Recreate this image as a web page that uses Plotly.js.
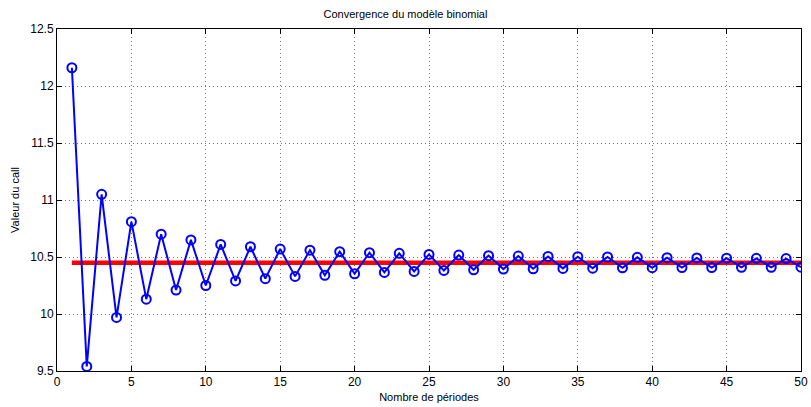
<!DOCTYPE html>
<html><head><meta charset="utf-8">
<script src="https://cdn.plot.ly/plotly-3.0.1.min.js"></script>
<style>body{margin:0;padding:0;background:#fff}#c{width:811px;height:407px}</style>
</head><body><div id="c"></div>
<script>
var periods = [];
for (var i = 1; i <= 50; i++) periods.push(i);
var callValues = [12.16, 9.54, 11.05, 9.97, 10.81, 10.13, 10.70, 10.21, 10.65, 10.25,
  10.61, 10.29, 10.59, 10.31, 10.57, 10.33, 10.56, 10.34, 10.547, 10.353,
  10.538, 10.365, 10.532, 10.373, 10.523, 10.382, 10.517, 10.388, 10.512, 10.394,
  10.508, 10.397, 10.505, 10.400, 10.503, 10.402, 10.500, 10.405, 10.497, 10.406,
  10.494, 10.407, 10.492, 10.408, 10.490, 10.409, 10.488, 10.410, 10.486, 10.411];
var bsX = [1, 50];
var bsValue = [10.4506, 10.4506];
var xTicks = [0, 5, 10, 15, 20, 25, 30, 35, 40, 45, 50];
var yTicks = [9.5, 10, 10.5, 11, 11.5, 12, 12.5];

var traces = [
  {x: bsX, y: bsValue, mode: 'lines', line: {color: '#ff0000', width: 4.5}, hoverinfo: 'none'},
  {x: periods, y: callValues, mode: 'lines+markers', line: {color: '#0000ff', width: 2},
   marker: {symbol: 'circle-open', size: 9, color: '#0000ff', line: {width: 2, color: '#0000ff'}}}
];
var fnt = {family: 'Liberation Sans, Arial, sans-serif', size: 12, color: '#000'};
var gridDash = '1px,3px';
var layout = {
  width: 811, height: 407, showlegend: false,
  paper_bgcolor: '#fff', plot_bgcolor: '#fff',
  margin: {l: 57, r: 10, t: 29, b: 36},
  title: {text: 'Convergence du modèle binomial', font: {family: fnt.family, size: 11, color: '#000'}, x: 0.5, xanchor: 'center', y: 0.966, yanchor: 'middle'},
  xaxis: {range: [0, 50], tickvals: xTicks, ticks: 'inside', ticklen: 5, tickcolor: '#000', mirror: 'ticks',
    showline: true, linecolor: '#000', linewidth: 1, showgrid: true, gridcolor: '#777', griddash: gridDash, gridwidth: 1,
    zeroline: false, tickfont: fnt,
    title: {text: 'Nombre de périodes', font: {family: fnt.family, size: 11, color: '#000'}, standoff: 4}},
  yaxis: {range: [9.5, 12.5], tickvals: yTicks, ticktext: ['9.5','10','10.5','11','11.5','12','12.5'], ticks: 'inside', ticklen: 5, tickcolor: '#000', mirror: 'ticks',
    showline: true, linecolor: '#000', linewidth: 1, showgrid: true, gridcolor: '#777', griddash: gridDash, gridwidth: 1,
    zeroline: false, tickfont: fnt,
    title: {text: 'Valeur du call', font: {family: fnt.family, size: 11, color: '#000'}, standoff: 8}}
};
Plotly.newPlot('c', traces, layout, {displayModeBar: false, staticPlot: true});
</script></body></html>
